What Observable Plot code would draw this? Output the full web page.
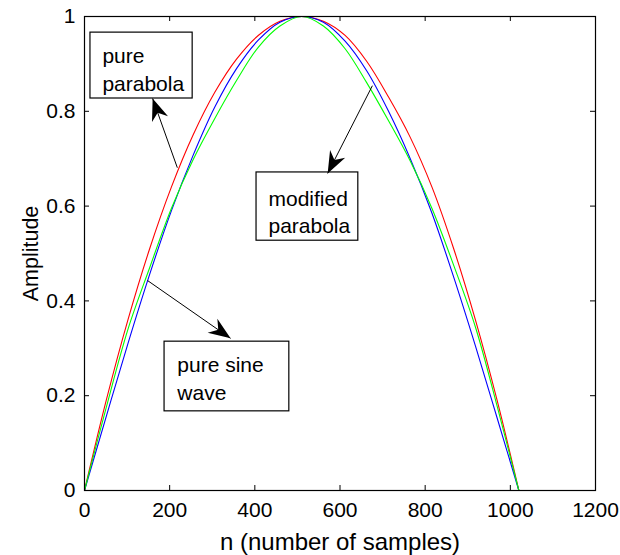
<!DOCTYPE html>
<html>
<head>
<meta charset="utf-8">
<script src="https://cdn.jsdelivr.net/npm/d3@7"></script>
<script src="https://cdn.jsdelivr.net/npm/@observablehq/plot@0.6"></script>
<style>
  html, body { margin: 0; padding: 0; background: #fff; }
  #chart svg { display: block; }
</style>
</head>
<body>
<div id="chart"></div>
<script>
// sample index (x axis)
const n = [0, 51, 102, 153, 204, 255, 306, 357, 408, 459, 510, 561, 612, 663, 714, 765, 816, 867, 918, 969, 1020];
// amplitudes
const pureParabola     = [0, 0.19, 0.36, 0.51, 0.64, 0.75, 0.84, 0.91, 0.96, 0.99, 1.0, 0.99, 0.96, 0.905, 0.83, 0.745, 0.64, 0.51, 0.36, 0.19, 0];
const pureSine         = [0, 0.156, 0.31, 0.456, 0.59, 0.707, 0.809, 0.89, 0.95, 0.988, 1.0, 0.988, 0.948, 0.885, 0.8, 0.7, 0.585, 0.45, 0.305, 0.153, 0];
const modifiedParabola = [0, 0.175, 0.34, 0.47, 0.595, 0.698, 0.785, 0.865, 0.935, 0.98, 1.0, 0.98, 0.932, 0.86, 0.78, 0.695, 0.595, 0.475, 0.345, 0.178, 0];

const xTicks = [0, 200, 400, 600, 800, 1000, 1200];
const yTicks = [0, 0.2, 0.4, 0.6, 0.8, 1];
const yTickLabels = ["0", "0.2", "0.4", "0.6", "0.8", "1"];

// annotations (data coordinates)
const boxLabels = ["pure\nparabola", "modified\nparabola", "pure sine\nwave"];
const boxX1 = [14, 404, 188];
const boxX2 = [254, 643, 481];
const boxY1 = [0.827, 0.527, 0.167];
const boxY2 = [0.966, 0.671, 0.314];
const textX = [42, 432, 218];
const textY = [0.943, 0.643, 0.291];

const arrowX1 = [218, 676, 148];
const arrowY1 = [0.681, 0.854, 0.443];
const arrowX2 = [160, 571, 343];
const arrowY2 = [0.827, 0.669, 0.321];

const seriesRows = (vals) => n.map((ni, i) => ({n: ni, v: vals[i]}));
const boxes = boxLabels.map((t, i) => ({t, x1: boxX1[i], x2: boxX2[i], y1: boxY1[i], y2: boxY2[i], tx: textX[i], ty: textY[i]}));
const arrows = arrowX1.map((d, i) => ({x1: arrowX1[i], y1: arrowY1[i], x2: arrowX2[i], y2: arrowY2[i]}));

const FONT = "'Liberation Sans', Arial, Helvetica, sans-serif";
const FS = 21;
const W = 620, H = 555;
const mL = 84, mR = 25, mT = 16, mB = 65;
const innerH = H - mT - mB;

const plot = Plot.plot({
  width: W,
  height: H,
  marginLeft: mL,
  marginRight: mR,
  marginTop: mT,
  marginBottom: mB,
  style: {background: "#fff", color: "#000", fontFamily: FONT},
  x: {domain: [0, 1200]},
  y: {domain: [0, 1]},
  marks: [
    Plot.line(seriesRows(pureParabola), {x: "n", y: "v", stroke: "#ff0000", strokeWidth: 1.1, curve: "catmull-rom"}),
    Plot.line(seriesRows(pureSine), {x: "n", y: "v", stroke: "#0000ff", strokeWidth: 1.1, curve: "catmull-rom"}),
    Plot.line(seriesRows(modifiedParabola), {x: "n", y: "v", stroke: "#00ff00", strokeWidth: 1.1, curve: "catmull-rom"}),
    Plot.rect(boxes, {x1: "x1", x2: "x2", y1: "y1", y2: "y2", fill: "#fff", stroke: "#000", strokeWidth: 1.2}),
    Plot.text(boxes, {x: "tx", y: "ty", text: "t", textAnchor: "start", lineAnchor: "top", lineHeight: 1.33, fontSize: FS, fill: "#000"}),
    Plot.link(arrows, {x1: "x1", y1: "y1", x2: "x2", y2: "y2", stroke: "#000", strokeWidth: 1, className: "annot-arrow"}),
    // inward ticks on all four sides
    Plot.tickX(xTicks, {x: d => d, insetTop: innerH - 5, stroke: "#000"}),
    Plot.tickX(xTicks, {x: d => d, insetBottom: innerH - 5, stroke: "#000"}),
    Plot.tickY(yTicks, {y: d => d, insetRight: (W - mL - mR) - 5, stroke: "#000"}),
    Plot.tickY(yTicks, {y: d => d, insetLeft: (W - mL - mR) - 5, stroke: "#000"}),
    Plot.axisX({ticks: xTicks, tickSize: 0, tickPadding: 12, fontSize: FS, label: null, tickFormat: d => String(d)}),
    Plot.axisY({ticks: yTicks, tickSize: 0, tickPadding: 9, fontSize: FS, label: null, tickFormat: (d) => yTickLabels[yTicks.indexOf(d)]}),
    Plot.text(["n (number of samples)"], {frameAnchor: "bottom", textAnchor: "middle", dy: 59, lineAnchor: "bottom", fontSize: 24, fill: "#000"}),
    Plot.text(["Amplitude"], {frameAnchor: "left", textAnchor: "middle", dx: -47, rotate: -90, lineAnchor: "bottom", fontSize: 21.5, fill: "#000"}),
    Plot.frame({stroke: "#000", strokeWidth: 1.2})
  ]
});

// filled arrowheads on the annotation links
const svg = d3.select(plot);
const defs = svg.insert("defs", ":first-child");
defs.append("marker")
  .attr("id", "ahead")
  .attr("viewBox", "-24 -10 26 20")
  .attr("refX", 0).attr("refY", 0)
  .attr("markerWidth", 26).attr("markerHeight", 20)
  .attr("markerUnits", "userSpaceOnUse")
  .attr("orient", "auto")
  .append("path")
  .attr("d", "M0,0L-22,-8.5L-15,0L-22,8.5Z")
  .attr("fill", "#000");
svg.selectAll(".annot-arrow path").attr("marker-end", "url(#ahead)");

document.getElementById("chart").appendChild(plot);
</script>
</body>
</html>
